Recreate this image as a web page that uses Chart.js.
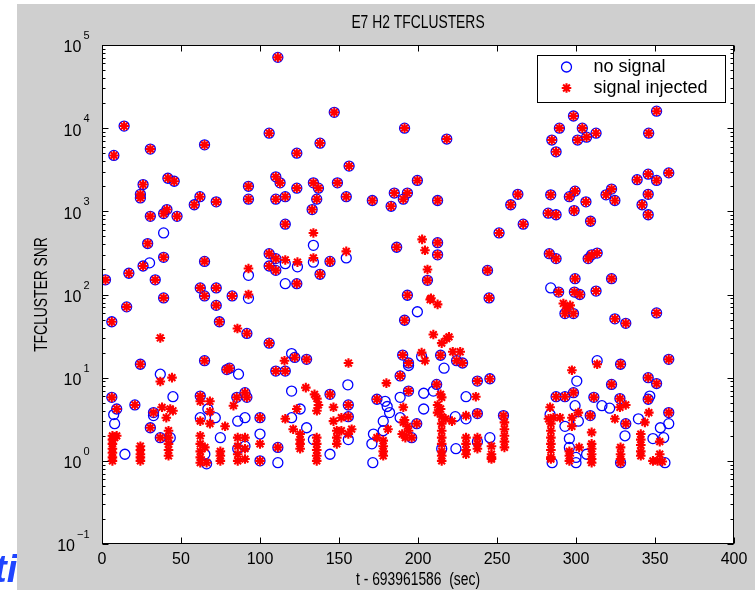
<!DOCTYPE html>
<html>
<head>
<meta charset="utf-8">
<script src="https://cdn.jsdelivr.net/npm/chart.js@4.4.1/dist/chart.umd.min.js"></script>
<style>
    html, body { margin: 0; padding: 0; background: #ffffff; }
    #wrap { width: 755px; height: 590px; position: relative; }
</style>
</head>
<body>
<div id="wrap"><canvas id="snrChart" width="755" height="590"></canvas></div>
<script>
"use strict";

// events seen in both runs (circle with asterisk on top)
const bothT = [
    111.3, 14, 7.5, 30.6, 64.9, 105.8, 123.3, 41.7, 45.7, 26, 24.3, 24.3, 62, 58.4, 72.3, 92.7, 92.7,
    110, 112.7, 110, 116, 123.3, 41.1, 39, 30.6, 47.5, 116, 28.9, 26, 39, 64.9, 17, 2.2, 33.7, 62.2,
    72.3, 64.9, 82.4, 39, 105.8, 105.8, 110, 110, 123.3, 147, 191.5, 218.2, 138, 156.4, 133.8, 137,
    149, 135.9, 154.6, 133, 199.6, 171.1, 185, 190.7, 193.3, 183, 212.4, 263.2, 258.7, 251.3, 144.3,
    138, 186.5, 212.4, 212.4, 206, 244, 193.3, 245, 351, 346, 298.4, 289.5, 304, 312.7, 306.7, 301,
    284.7, 287.4, 338.7, 345.7, 351, 358.7, 345.7, 341.8, 345.7, 284, 295.8, 299.4, 306.3, 319, 322.5,
    324.6, 282.4, 287.4, 298.8, 309.2, 266.6, 283.1, 287.4, 307.7, 309.9, 313.4, 299.4, 322.5, 289,
    299, 302.4, 312.7, 293, 298.4, 324.6, 331.5, 351, 15.6, 6.2, 24.3, 64.9, 79, 80.7, 91.7, 105.8,
    74.3, 72.3, 122, 129.5, 110, 116, 6.2, 9.3, 20.8, 32.6, 30.6, 62.2, 100, 111.3, 191.5, 190.3,
    214.3, 194, 237.6, 245.5, 211.8, 174, 144.3, 224.4, 228.2, 322.5, 345.7, 351, 328.2, 358.7, 287.4,
    293, 298.4, 311.3, 345.7, 358.7, 327.8, 331.5, 36.9, 85.3, 90.5, 91.7, 100, 188.7, 194, 199.2,
    196, 155.9, 155.9, 237.6, 254.1, 309
];
const bothSnr = [
    71000, 10600, 4700, 5600, 6300, 8700, 5000, 2500, 2300, 2100, 1600, 1450, 1500, 1200, 1300, 2000, 1400,
    2600, 2200, 1400, 1500, 1900, 1050, 940, 870, 870, 700, 410, 220, 280, 250, 180, 150, 150, 120,
    120, 96, 96, 91, 310, 220, 270, 195, 135, 15500, 10000, 7400, 6600, 3500, 2200, 1900,
    2200, 1400, 1500, 1050, 2350, 1350, 1660, 1400, 1660, 1150, 1350, 1600, 1200, 550, 250,
    175, 370, 420, 300, 148, 195, 98, 91, 16000, 8700, 14000, 10000, 10000, 8700, 7800, 7200,
    7200, 5200, 2400, 2800, 2350, 2900, 1600, 1200, 910, 1580, 1500, 1750, 1300, 1580, 1850,
    1350, 950, 910, 1020, 760, 700, 310, 270, 270, 300, 315, 155, 155, 107,
    107, 100, 110, 59, 59, 51, 45, 60, 71, 47, 14.5, 16, 12.5, 13, 34, 26,
    47, 74, 17.5, 16.6, 12, 12, 5.8, 4.2, 4.7, 3.8, 2.5, 6, 3.3, 1.45, 49, 18.7,
    18.6, 15, 9.1, 9.7, 8.3, 5.5, 6.3, 16, 15, 8.3, 10, 8.5, 14.5, 16.6, 5.9,
    5.9, 6.6, 5.8, 5.5, 3.8, 5.6, 2.8, 1.9, 5.8, 6.6, 5.8, 1.0, 10.5, 6.9, 2.8,
    1.9, 4.7, 3.4, 3.7, 3.5, 3.5
];

// events only in the quiet run
const noSignalT = [
    39, 30.1, 92.7, 92.7, 116, 123.7, 116, 133.8, 133.8, 154.6, 36.9, 44.9, 86.4, 120, 155.6, 199.6,
    202.3, 216.5, 194, 230.4, 209.7, 203.6, 203.6, 300.5, 313.4, 284, 7.4, 8, 14.5, 32.6, 43.2, 62.2,
    65.1, 66.2, 67, 71.7, 74.9, 85.9, 90.5, 85.9, 90.5, 100, 111.3, 120, 120, 129.5, 125.4, 133.8,
    144.3, 155.9, 179.2, 180.5, 182, 178, 178, 171.8, 170.8, 171.4, 188.7, 188.7, 223.6, 230.4, 215,
    224, 237.6, 245.5, 283.6, 299.4, 301.5, 293, 284.9, 295.8, 295.8, 300, 300, 306.7, 316.4, 321.3,
    331, 328.2, 346.7, 339.5, 353.4, 358.7, 355.5, 348.7, 356.3
];
const noSignalSnr = [
    550, 240, 170, 90, 235, 215, 135, 390, 245, 275, 11, 5.9, 11, 19.5, 8.2, 62,
    18, 13, 14, 5.9, 6.9, 6.5, 4.2, 9.1, 16, 120, 3.6, 2.8, 1.2, 3.5, 1.9, 3.3,
    1.2, 0.92, 4.2, 3.3, 1.9, 3.0, 3.3, 1.4, 1.5, 2.1, 0.95, 6.9, 3.3, 2.5, 4.2, 1.8,
    1.2, 1.8, 5.2, 4.5, 3.8, 3.0, 2.3, 2.1, 1.6, 0.95, 5.8, 3.3, 3.4, 3.2, 1.4,
    1.4, 1.7, 1.9, 3.6, 4.6, 3.0, 2.6, 0.95, 1.85, 1.45, 1.1, 0.95, 1.2, 4.6, 4.3,
    2.0, 0.95, 6.0, 3.2, 2.5, 2.8, 1.9, 1.85, 0.95
];

// events only in the run with injections
const injectedT = [
    116, 123.7, 133.8, 133.8, 154.6, 202.6, 204.4, 206, 208.2, 92.7, 92.7, 292, 296.3, 294, 36.9, 36.9,
    44.3, 85.7, 115.5, 129, 156, 180, 207.7, 212.4, 209.7, 215, 218.2, 219.6, 222, 226.7, 202.3, 204.4,
    236.6, 297.4, 313.4,
    6.6, 6.6, 6.6, 6.6, 6.6, 6.6, 6.6, 9.3, 8.1,
    24.3, 24.3, 24.3, 24.3, 24.3, 38, 43.2, 44.9, 40.7,
    42.1, 42.1, 42.1, 42.1, 42.1,
    62.2, 62.2, 62.2, 62.2, 62.2, 62.2, 62.2, 65.1, 66.2, 68.3, 68.3, 68.3,
    74.9, 74.9, 74.9, 77.9, 83.2, 85.9, 85.9, 85.9, 85.9, 90.5, 90.5, 90.5, 100,
    116, 123.3, 121, 125.4, 125.4, 125.4, 125.4,
    134.5, 136, 137, 136, 135.9, 135.9, 135.9, 135.9, 135.9,
    146.5, 146.5, 148.6, 148.6, 148.6, 151.5, 151.5, 158, 155.9,
    181, 174, 178, 178, 178, 178,
    190.7, 191.5, 190.7, 193.3, 190, 194, 192,
    214.3, 215, 212.4, 214.3, 212.4, 215, 217.5, 221.5,
    215, 215, 215, 215, 215, 215, 215,
    230.4, 230.4, 230.4, 230.4, 230.4, 237.6, 237.6, 237.6,
    246.5, 246.5, 246.5, 246.5, 254.7, 254.7, 254.7, 254.7, 254.7,
    283.6, 282.6, 285.7, 301.5, 289.9, 297.4, 297.4,
    284.1, 284.1, 284.1, 284.1, 284.1, 284.1, 284.1,
    295.8, 295.8, 295.8, 302, 309.9, 309.9, 309.9, 309.9, 309.9, 309.9,
    327.8, 331.5, 324.6, 328.2, 328.2, 328.2, 328.2,
    341, 341, 341, 341, 341, 346.1, 343.6, 353, 353, 348.7, 351.6, 354.6
];
const injectedSnr = [
    260, 245, 550, 275, 330, 460, 340, 200, 90, 205, 100, 78, 74, 68, 30, 9,
    10, 39, 16, 7.6, 15, 8.6, 87, 76, 33, 26, 29.5, 31, 20.5, 20.5, 20, 16,
    5.9, 12.3, 14.5,
    2.0, 1.8, 1.6, 1.4, 1.25, 1.1, 1.0, 2.0, 1.9,
    1.5, 1.35, 1.2, 1.1, 1.0, 4.4, 4.2, 4.0, 3.3,
    2.3, 1.9, 1.6, 1.35, 1.15,
    5.2, 3.0, 2.0, 1.6, 1.3, 1.1, 0.95, 1.45, 0.95, 5.2, 3.9, 2.8,
    1.3, 1.15, 1.0, 2.6, 4.6, 1.9, 1.5, 1.2, 1.0, 1.9, 1.4, 1.05, 1.6,
    3.2, 4.2, 2.4, 2.1, 1.8, 1.6, 1.4,
    6.3, 5.6, 4.7, 4.0, 1.9, 1.6, 1.35, 1.15, 1.0,
    4.4, 3.0, 2.3, 1.9, 1.6, 3.3, 2.3, 2.4, 2.1,
    2.4, 1.9, 1.75, 1.5, 1.3, 1.15,
    4.4, 3.1, 2.9, 2.6, 2.1, 2.3, 1.9,
    6.3, 5.8, 4.7, 4.2, 3.8, 3.4, 3.2, 3.0,
    2.8, 2.3, 1.9, 1.6, 1.3, 1.15, 1.0,
    3.5, 1.9, 1.6, 1.35, 1.2, 1.9, 1.6, 1.4,
    1.5, 1.2, 1.1, 1.05, 2.9, 2.4, 2.0, 1.7, 1.45,
    4.4, 3.2, 3.3, 3.8, 3.3, 3.3, 2.6,
    2.8, 2.3, 1.9, 1.6, 1.35, 1.1, 1.05,
    1.3, 1.15, 1.0, 1.45, 2.2, 1.6, 1.4, 1.2, 1.05, 0.95,
    4.4, 4.7, 3.2, 1.45, 1.2, 1.05, 0.95,
    2.1, 1.8, 1.55, 1.3, 1.15, 3.8, 2.9, 1.7, 1.2, 1.0, 1.0, 0.98
];

const xTicks = [0, 50, 100, 150, 200, 250, 300, 350, 400];
const yExponents = [-1, 0, 1, 2, 3, 4, 5];

const labels = {
    title: "E7 H2 TFCLUSTERS",
    xAxis: "t - 693961586  (sec)",
    yAxis: "TFCLUSTER SNR",
    noSignal: "no signal",
    injected: "signal injected"
};

const FONT = '"Liberation Sans", Arial, sans-serif';
const FIGURE_GRAY = "#cfcfcf";

function toPoints(ts, values) {
    return ts.map((t, i) => ({ x: t, y: values[i] }));
}

// text squeezed horizontally, the way the old figure font looks
function drawText(ctx, text, x, y, size, squeeze, align) {
    ctx.save();
    ctx.translate(x, y);
    ctx.scale(squeeze, 1);
    ctx.font = size + "px " + FONT;
    ctx.textAlign = align;
    ctx.textBaseline = "middle";
    ctx.fillText(text, 0, 0);
    ctx.restore();
}

const pageBackground = {
    id: "pageBackground",
    beforeDraw(chart) {
        const { ctx, chartArea } = chart;
        ctx.save();
        ctx.fillStyle = "#ffffff";
        ctx.fillRect(0, 0, chart.width, chart.height);

        // stray slide text peeking out on the left
        ctx.fillStyle = "#1f45ff";
        ctx.font = "bold italic 38px " + FONT;
        ctx.textBaseline = "alphabetic";
        ctx.textAlign = "left";
        ctx.fillText("ti", -6, 582);

        ctx.fillStyle = FIGURE_GRAY;
        ctx.fillRect(17, 4, chart.width - 17, chart.height - 4);

        ctx.fillStyle = "#ffffff";
        ctx.fillRect(chartArea.left, chartArea.top,
            chartArea.right - chartArea.left, chartArea.bottom - chartArea.top);
        ctx.restore();
    }
};

const axesFrame = {
    id: "axesFrame",
    afterDatasetsDraw(chart) {
        const { ctx, chartArea } = chart;
        const xScale = chart.scales.x;
        const yScale = chart.scales.y;
        const left = Math.round(chartArea.left) + 0.5;
        const right = Math.round(chartArea.right) - 0.5;
        const top = Math.round(chartArea.top) + 0.5;
        const bottom = Math.round(chartArea.bottom) - 0.5;

        ctx.save();
        ctx.strokeStyle = "#000000";
        ctx.lineWidth = 1;
        ctx.strokeRect(left, top, right - left, bottom - top);

        // x ticks, inside on top and bottom
        ctx.beginPath();
        for (const v of xTicks) {
            const px = Math.round(xScale.getPixelForValue(v)) + 0.5;
            ctx.moveTo(px, bottom);
            ctx.lineTo(px, bottom - 6);
            ctx.moveTo(px, top);
            ctx.lineTo(px, top + 6);
        }

        // log ticks, decades and minors, inside on left and right
        for (const e of yExponents) {
            const py = Math.round(yScale.getPixelForValue(Math.pow(10, e))) + 0.5;
            ctx.moveTo(left, py);
            ctx.lineTo(left + 6, py);
            ctx.moveTo(right, py);
            ctx.lineTo(right - 6, py);
            if (e === yExponents[yExponents.length - 1]) {
                continue;
            }
            for (let m = 2; m <= 9; m++) {
                const my = Math.round(yScale.getPixelForValue(m * Math.pow(10, e))) + 0.5;
                ctx.moveTo(left, my);
                ctx.lineTo(left + 3, my);
                ctx.moveTo(right, my);
                ctx.lineTo(right - 3, my);
            }
        }
        ctx.stroke();

        ctx.fillStyle = "#000000";

        // x tick labels
        for (const v of xTicks) {
            drawText(ctx, String(v), xScale.getPixelForValue(v), bottom + 16, 16, 1, "center");
        }

        // y tick labels as 10 with a raised exponent
        for (const e of yExponents) {
            const py = yScale.getPixelForValue(Math.pow(10, e));
            const exponent = e < 0 ? "\u2212" + Math.abs(e) : String(e);
            ctx.font = "11px " + FONT;
            const expWidth = ctx.measureText(exponent).width;
            const expRight = left - 13;
            drawText(ctx, exponent, expRight - expWidth, py - 9, 11, 1, "left");
            drawText(ctx, "10", expRight - expWidth - 2, py + 3, 16, 1, "right");
        }

        // titles
        const midX = (chartArea.left + chartArea.right) / 2;
        drawText(ctx, labels.title, midX, 23, 18, 0.77, "center");
        drawText(ctx, labels.xAxis, midX, 580, 18, 0.77, "center");

        ctx.save();
        ctx.translate(42, (chartArea.top + chartArea.bottom) / 2);
        ctx.rotate(-Math.PI / 2);
        drawText(ctx, labels.yAxis, 0, 0, 18, 0.77, "center");
        ctx.restore();

        drawLegend(chart);
        ctx.restore();
    }
};

function drawLegend(chart) {
    const { ctx } = chart;
    const box = { x: 537.5, y: 55.5, w: 188, h: 47 };
    ctx.fillStyle = "#ffffff";
    ctx.fillRect(box.x, box.y, box.w, box.h);
    ctx.strokeStyle = "#000000";
    ctx.lineWidth = 1;
    ctx.strokeRect(box.x, box.y, box.w, box.h);

    const rows = [
        { ds: chart.data.datasets[0], y: box.y + 11.5 },
        { ds: chart.data.datasets[1], y: box.y + 32.5 }
    ];
    for (const row of rows) {
        ctx.strokeStyle = row.ds.borderColor;
        ctx.fillStyle = row.ds.backgroundColor;
        ctx.lineWidth = row.ds.borderWidth;
        Chart.helpers.drawPoint(ctx, {
            pointStyle: row.ds.pointStyle,
            rotation: 0,
            radius: row.ds.pointRadius,
            borderWidth: row.ds.borderWidth
        }, box.x + 29, row.y);
        ctx.fillStyle = "#000000";
        drawText(ctx, row.ds.label, box.x + 56, row.y, 18, 1, "left");
    }
}

new Chart(document.getElementById("snrChart"), {
    type: "scatter",
    data: {
        datasets: [
            {
                label: labels.noSignal,
                data: toPoints(bothT.concat(noSignalT), bothSnr.concat(noSignalSnr)),
                pointStyle: "circle",
                pointRadius: 5,
                borderColor: "#0000ff",
                backgroundColor: "rgba(0, 0, 0, 0)",
                borderWidth: 1.3,
                order: 2
            },
            {
                label: labels.injected,
                data: toPoints(bothT.concat(injectedT), bothSnr.concat(injectedSnr)),
                pointStyle: "star",
                pointRadius: 4.8,
                borderColor: "#ff0000",
                backgroundColor: "#ff0000",
                borderWidth: 2.1,
                order: 1
            }
        ]
    },
    options: {
        responsive: false,
        animation: false,
        events: [],
        layout: {
            padding: { left: 102, top: 45, right: 21, bottom: 46 }
        },
        scales: {
            x: { type: "linear", min: 0, max: 400, display: false },
            y: { type: "logarithmic", min: 0.1, max: 100000, display: false }
        },
        plugins: {
            legend: { display: false },
            tooltip: { enabled: false }
        }
    },
    plugins: [pageBackground, axesFrame]
});
</script>
</body>
</html>
